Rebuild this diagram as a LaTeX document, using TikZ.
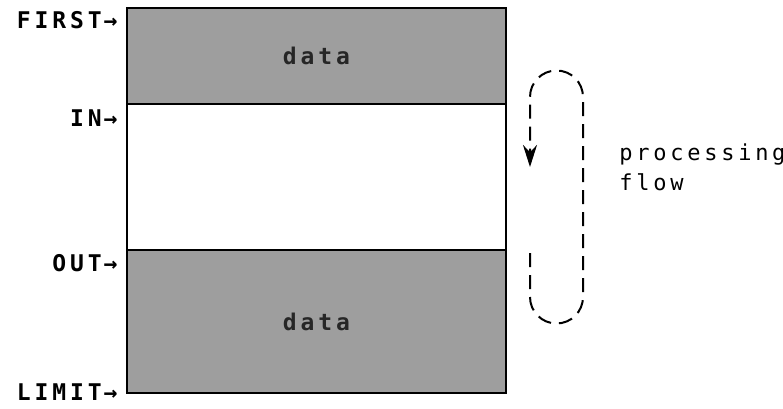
\documentclass[tikz,border=0pt]{standalone}
\usepackage{fontspec}
\usepackage{tikz}
\usetikzlibrary{arrows.meta, positioning}
\newfontfamily\tapefont[LetterSpace=17]{DejaVu Sans Mono}
\definecolor{halftone}{RGB}{158, 158, 158}

\begin{document}
\begin{tikzpicture}[
    x=0.5pt, y=0.5pt,
    blk/.style={rectangle, draw=black, line width=1pt, inner sep=0pt,
                minimum width=189.5pt},
    datablk/.style={blk, fill=halftone, font=\tapefont\bfseries\fontsize{11.5}{13}\selectfont,
                    text=black!85},
    freeblk/.style={blk, fill=white},
    ptr/.style={anchor=east, inner sep=0pt, font=\tapefont\bfseries\fontsize{11.5}{13}\selectfont},
    flowarr/.style={-{Stealth[length=11pt, width=7pt]}, line width=1pt,
                    dash pattern=on 7pt off 4pt},
    flownote/.style={anchor=west, align=left, inner sep=0pt,
                     font=\tapefont\fontsize{11}{15}\selectfont},
]
\useasboundingbox (0,0) rectangle (783,408);

% the buffer
\node[datablk, minimum height=48pt] (head) at (316.5,352) {data};
\node[freeblk, minimum height=73pt] (free) at (316.5,231) {};
\node[datablk, minimum height=71.5pt] (tail) at (316.5,86.5) {data};

% pointers
\node[ptr] (first) at (118,388) {FIRST\kern1pt→};
\node[ptr] (in)    at (118,290) {IN\kern1pt→};
\node[ptr] (out)   at (118,145) {OUT\kern1pt→};
\node[ptr] (limit) at (118,16)  {LIMIT\kern1pt→};

% loop
\coordinate (loopin)  at (530,155);
\coordinate (loopout) at (530,241);
\draw[flowarr] (loopin) -- (530,111) arc[start angle=180, end angle=360, radius=26.5]
    -- (583,311) arc[start angle=0, end angle=180, radius=26.5] -- (loopout);

\node[flownote] (note) at (619,241) {processing\\flow};

\end{tikzpicture}
\end{document}
